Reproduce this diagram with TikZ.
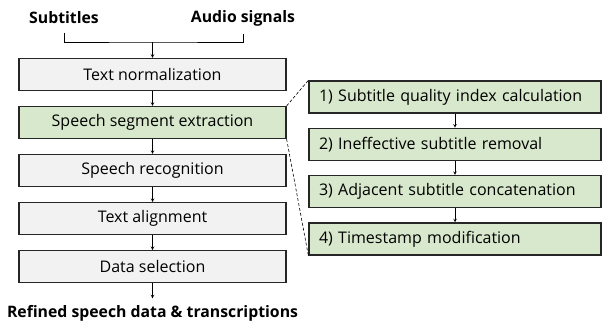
\documentclass[tikz,border=0pt]{standalone}
\usepackage{fontspec}
\setmainfont{Open Sans}
\usetikzlibrary{arrows,positioning}
\definecolor{boxgray}{RGB}{242,242,242}
\definecolor{boxgreen}{RGB}{216,232,204}
\tikzset{
    stage/.style={rectangle,draw=black!85,line width=1.3pt,fill=boxgray,minimum width=267pt,minimum height=32pt,inner ysep=0pt,font=\fontsize{16}{18}\selectfont},
    substage/.style={stage,fill=boxgreen,minimum width=0pt,text width=272pt,inner xsep=10pt,align=left},
    title/.style={font=\fontsize{15.8}{18}\selectfont\bfseries},
    pre/.style={->,semithick,>=stealth},
    post/.style={<-,semithick,>=stealth},
    bi/.style={-,semithick},
    zoomline/.style={dash pattern=on 3pt off 2pt,semithick}
}

\begin{document}
\begin{tikzpicture}[x=1pt,y=-1pt]
                \useasboundingbox (0,0) rectangle (602,324);

                \node[title] (subs)  at (64,18)  {Subtitles};
                \node[title] (audio) at (243,18) {Audio signals};
                \coordinate (join) at (152.5,42);

                \node[stage] (norm)    at (152.5,74.5)                   {Text normalization};
                \node[stage,fill=boxgreen] (extract) [below=14.75pt of norm]  {Speech segment extraction}
                    edge[post] (norm);
                \node[stage] (recog)   [below=14.75pt of extract]        {Speech recognition}
                    edge[post] (extract);
                \node[stage] (align)   [below=14.75pt of recog]          {Text alignment}
                    edge[post] (recog);
                \node[stage] (select)  [below=14.75pt of align]          {Data selection}
                    edge[post] (align);
                \node[title] (result)  [below=19pt of select]            {Refined speech data \& transcriptions};
                \draw[pre] (select) -- ([yshift=4pt]result.north);

                \draw[bi] ([yshift=-5pt]subs.south) |- (join) -| ([yshift=-5pt]audio.south);
                \draw[pre] (join) -- (norm);

                \node[substage] (quality) at (455,97)            {1) Subtitle quality index calculation};
                \node[substage] (remove)  [below=14pt of quality] {2) Ineffective subtitle removal}
                    edge[post] (quality);
                \node[substage] (concat)  [below=14pt of remove]  {3) Adjacent subtitle concatenation}
                    edge[post] (remove);
                \node[substage] (stamp)   [below=14pt of concat]  {4) Timestamp modification}
                    edge[post] (concat);

                \draw[zoomline] (extract.north east) -- (quality.north west);
                \draw[zoomline] (extract.south east) -- (stamp.south west);

            \end{tikzpicture}
\end{document}
